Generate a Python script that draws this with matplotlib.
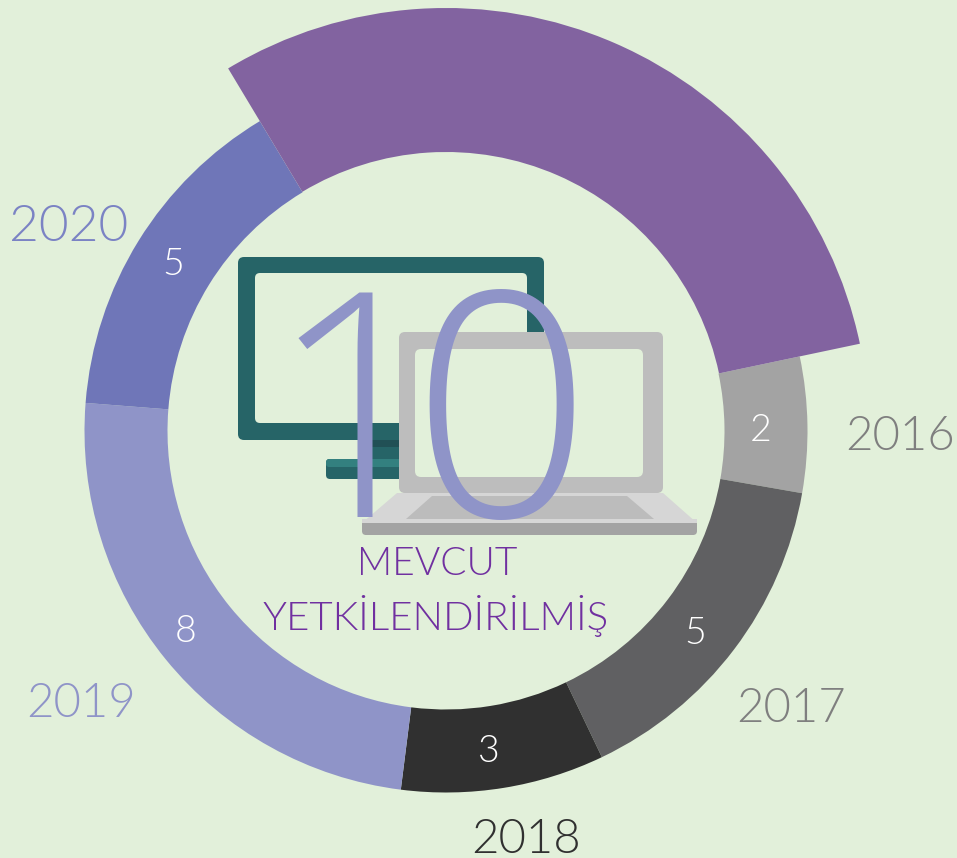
import matplotlib
matplotlib.use("Agg")
import matplotlib.pyplot as plt
from matplotlib.patches import FancyBboxPatch, Polygon

years = ["2015", "2016", "2017", "2018", "2019", "2020"]
counts = [10, 2, 5, 3, 8, 5]
colors = ["#8263a0", "#a3a3a3", "#606062", "#303030", "#8f94c8", "#6f76b8"]
total_label = "10"
caption = ["MEVCUT", "YETKİLENDİRİLMİŞ"]

BG = "#e2f0da"
FONT = "Lato"
W = 300
H = 858
CX, CY = 446, H - 431


def rbox(ax, x0, y0, x1, y1, color, r=6, z=3):
    # pixel coords from the top left of the picture
    p = FancyBboxPatch((x0 + r, H - y1 + r), x1 - x0 - 2 * r, y1 - y0 - 2 * r,
                       boxstyle=f"round,pad={r},rounding_size={r}",
                       fc=color, ec="none", zorder=z)
    ax.add_patch(p)


def poly(ax, pts, color, z=3):
    ax.add_patch(Polygon([(x, H - y) for x, y in pts], closed=True, fc=color, ec="none", zorder=z))


def label(ax, x, y, s, color, size, z=5, family=FONT):
    ax.text(x, H - y, s, color=color, fontsize=size, family=family, weight=W,
            ha="center", va="baseline", zorder=z)


fig = plt.figure(figsize=(9.57, 8.58), dpi=100, facecolor=BG)
ax = fig.add_axes([0, 0, 1, 1])

# ring, with the first slice pulled out to a bigger radius in a second pie
ring, _ = ax.pie(counts, colors=colors, startangle=121, counterclock=False, center=(CX, CY),
                 radius=361.5, wedgeprops={"width": 83, "linewidth": 0})
big, _ = ax.pie(counts, colors=colors, startangle=121, counterclock=False, center=(CX, CY),
                radius=423, wedgeprops={"width": 144, "linewidth": 0})
ring[0].set_visible(False)
for w in big[1:]:
    w.set_visible(False)

ax.set_xlim(0, 957)
ax.set_ylim(0, H)
ax.set_aspect("equal")
ax.axis("off")

# values on the ring
label(ax, 761, 441, str(counts[1]), "white", 27)
label(ax, 695, 644, str(counts[2]), "white", 27)
label(ax, 489, 762, str(counts[3]), "white", 27)
label(ax, 186, 642, str(counts[4]), "white", 27)
label(ax, 173, 275, str(counts[5]), "white", 27)

# year labels
label(ax, 900, 450, years[1], "#7f7f7f", 34)
label(ax, 791, 722, years[2], "#7f7f7f", 34)
label(ax, 526, 853, years[3], "#303030", 34)
label(ax, 81, 717, years[4], "#8f94c8", 34)
label(ax, 69, 241, years[5], "#7b83c4", 37)

# monitor
rbox(ax, 238, 257, 544, 440, "#266467", z=2)
rbox(ax, 255, 273, 527, 423, BG, r=5, z=2.1)
poly(ax, [(358, 440), (420, 440), (420, 460), (358, 460)], "#266467", z=2)
poly(ax, [(358, 440), (420, 440), (420, 447), (358, 447)], "#215055", z=2.1)
rbox(ax, 326, 459, 420, 479, "#266467", r=4, z=2.2)
rbox(ax, 326, 459, 420, 467, "#33807f", r=3, z=2.3)

# laptop
rbox(ax, 399, 332, 663, 493, "#bdbdbd", z=3)
rbox(ax, 415, 349, 643, 477, BG, r=6, z=3.1)
poly(ax, [(397, 493), (663, 493), (697, 523), (362, 523)], "#d6d6d6", z=3)
poly(ax, [(432, 496), (627, 496), (654, 519), (406, 519)], "#bcbcbc", z=3.1)
rbox(ax, 362, 520, 697, 535, "#a3a3a3", r=4, z=3.2)
poly(ax, [(362, 519), (697, 519), (697, 523), (362, 523)], "#d6d6d6", z=3.3)

# big number, the two digits sit closer than the font spaces them
label(ax, 357, 517, total_label[0], "#8f94c8", 226, z=4, family="Open Sans")
label(ax, 501, 517, total_label[1], "#8f94c8", 226, z=4, family="Open Sans")

# caption
label(ax, 437.5, 575, caption[0], "#7030a0", 28, z=4)
label(ax, 436, 630, caption[1], "#7030a0", 29, z=4)

fig.savefig("out.png", dpi=100, facecolor=BG)
